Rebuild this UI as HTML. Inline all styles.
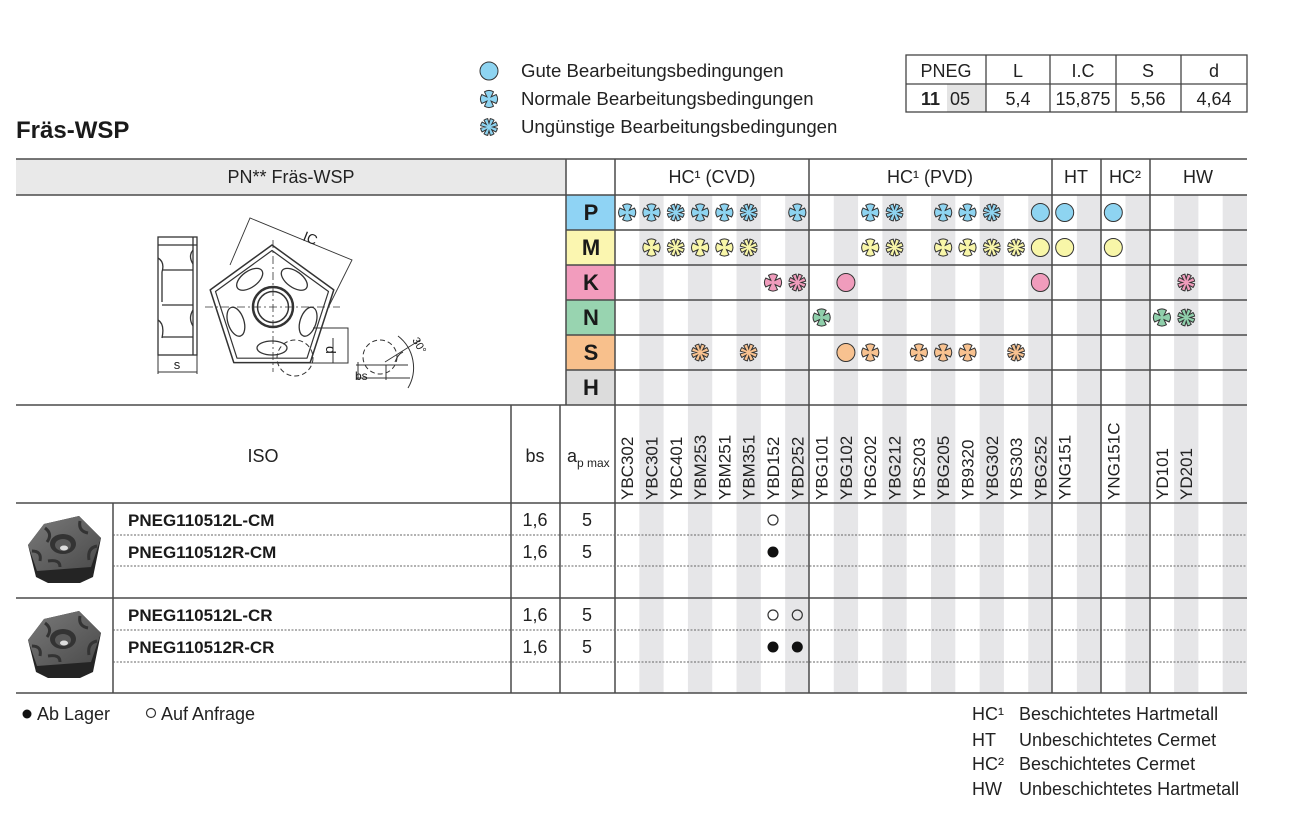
<!DOCTYPE html>
<html><head><meta charset="utf-8"><style>
html,body{margin:0;padding:0;background:#fff;}
svg{display:block;}
text{font-family:"Liberation Sans",Arial,sans-serif;fill:#222;}
</style></head><body>
<svg width="1290" height="823" viewBox="0 0 1290 823" xmlns="http://www.w3.org/2000/svg">
<defs>
<path id="gN" stroke="#333" stroke-width="1" d="M7.21,4.5 L2.12,2.12 L4.5,7.21 A8.5,8.5 0 0 1 -4.5,7.21 L-2.12,2.12 L-7.21,4.5 A8.5,8.5 0 0 1 -7.21,-4.5 L-2.12,-2.12 L-4.5,-7.21 A8.5,8.5 0 0 1 4.5,-7.21 L2.12,-2.12 L7.21,-4.5 A8.5,8.5 0 0 1 7.21,4.5 Z"/>
<path id="gU" stroke="#333" stroke-width="1" d="M8.395,-1.33 L3.8,0 L8.395,1.33 A8.5,8.5 0 0 1 6.877,4.996 L2.69,2.69 L4.996,6.877 A8.5,8.5 0 0 1 1.33,8.395 L0,3.8 L-1.33,8.395 A8.5,8.5 0 0 1 -4.996,6.877 L-2.69,2.69 L-6.877,4.996 A8.5,8.5 0 0 1 -8.395,1.33 L-3.8,0 L-8.395,-1.33 A8.5,8.5 0 0 1 -6.877,-4.996 L-2.69,-2.69 L-4.996,-6.877 A8.5,8.5 0 0 1 -1.33,-8.395 L0,-3.8 L1.33,-8.395 A8.5,8.5 0 0 1 4.996,-6.877 L2.69,-2.69 L6.877,-4.996 A8.5,8.5 0 0 1 8.395,-1.33 Z"/>
<linearGradient id="ins" x1="0" y1="0" x2="1" y2="1">
<stop offset="0" stop-color="#7a7a7a"/><stop offset="1" stop-color="#4a4a4a"/>
</linearGradient>
<g id="insert">
<path d="M28,545 L44,524 L79,516 L101,538 L93,577 L80,583 L48,583 L36,577 Z" fill="#242424"/>
<path d="M28,545 L44,524 L79,516 L101,538 L91,567 L37,571 Z" fill="url(#ins)"/>
<path d="M45,528 q8,6 2,14 M80,521 q-2,10 8,12 M97,546 q-10,2 -8,14 M60,567 q0,-8 -12,-6 M32,551 q10,0 8,10" stroke="#333" stroke-width="3" fill="none"/>
<ellipse cx="63" cy="544" rx="13" ry="10" fill="#333"/>
<ellipse cx="63" cy="545" rx="8" ry="6" fill="#5a5a5a"/>
<ellipse cx="64" cy="548" rx="4" ry="2.5" fill="#ddd"/>
</g>
</defs>

<!-- Title -->
<text x="16" y="138" font-size="24" font-weight="bold" style="fill:#1a1a1a">Fräs-WSP</text>

<!-- Top legend -->
<circle cx="489" cy="71" r="9" fill="#8ed4f1" stroke="#333" stroke-width="1"/>
<use href="#gN" x="489" y="99" fill="#8ed4f1"/>
<use href="#gU" x="489" y="127" fill="#8ed4f1"/>
<text x="521" y="77" font-size="18.6">Gute Bearbeitungsbedingungen</text>
<text x="521" y="105" font-size="18.6">Normale Bearbeitungsbedingungen</text>
<text x="521" y="133" font-size="18.6">Ungünstige Bearbeitungsbedingungen</text>

<!-- PNEG table -->
<rect x="947" y="84" width="39" height="28" fill="#e4e4e4"/>
<g stroke="#444" stroke-width="1.3" fill="none">
<rect x="906" y="55" width="341" height="57"/>
<line x1="906" y1="84" x2="1247" y2="84"/>
<line x1="986" y1="55" x2="986" y2="112"/>
<line x1="1050" y1="55" x2="1050" y2="112"/>
<line x1="1116" y1="55" x2="1116" y2="112"/>
<line x1="1181" y1="55" x2="1181" y2="112"/>
</g>
<g font-size="18" text-anchor="middle">
<text x="946" y="77">PNEG</text>
<text x="1018" y="77">L</text>
<text x="1083" y="77">I.C</text>
<text x="1148" y="77">S</text>
<text x="1214" y="77">d</text>
<text x="1018" y="105">5,4</text>
<text x="1083" y="105">15,875</text>
<text x="1148" y="105">5,56</text>
<text x="1214" y="105">4,64</text>
</g>
<text x="921" y="105" font-size="18" font-weight="bold">11</text>
<text x="950" y="105" font-size="18">05</text>

<!-- header grey -->
<rect x="16" y="159" width="550" height="36" fill="#e9e9e9"/>

<!-- column shading -->
<g fill="#e6e6e8">
<rect x="639.31" y="195" width="24.31" height="498"/>
<rect x="687.92" y="195" width="24.31" height="498"/>
<rect x="736.54" y="195" width="24.31" height="498"/>
<rect x="785.15" y="195" width="24.31" height="498"/>
<rect x="833.77" y="195" width="24.31" height="498"/>
<rect x="882.38" y="195" width="24.31" height="498"/>
<rect x="931.00" y="195" width="24.31" height="498"/>
<rect x="979.62" y="195" width="24.31" height="498"/>
<rect x="1028.23" y="195" width="24.31" height="498"/>
<rect x="1076.85" y="195" width="24.31" height="498"/>
<rect x="1125.46" y="195" width="24.31" height="498"/>
<rect x="1174.08" y="195" width="24.31" height="498"/>
<rect x="1222.69" y="195" width="24.31" height="498"/>
</g>

<!-- material letter cells -->
<rect x="566" y="195" width="49" height="35" fill="#8fd3f4"/>
<rect x="566" y="230" width="49" height="35" fill="#fbf6b0"/>
<rect x="566" y="265" width="49" height="35" fill="#f29cbd"/>
<rect x="566" y="300" width="49" height="35" fill="#98d4b0"/>
<rect x="566" y="335" width="49" height="35" fill="#f8c08c"/>
<rect x="566" y="370" width="49" height="35" fill="#dcdcdc"/>
<g font-size="22" font-weight="bold" text-anchor="middle">
<text x="591" y="220" style="fill:#1a1a1a">P</text>
<text x="591" y="255" style="fill:#1a1a1a">M</text>
<text x="591" y="290" style="fill:#1a1a1a">K</text>
<text x="591" y="325" style="fill:#1a1a1a">N</text>
<text x="591" y="360" style="fill:#1a1a1a">S</text>
<text x="591" y="395" style="fill:#1a1a1a">H</text>
</g>

<!-- header texts -->
<g font-size="18" text-anchor="middle">
<text x="291" y="183">PN** Fräs-WSP</text>
<text x="712" y="183">HC¹ (CVD)</text>
<text x="930" y="183">HC¹ (PVD)</text>
<text x="1076" y="183">HT</text>
<text x="1125" y="183">HC²</text>
<text x="1198" y="183">HW</text>
</g>

<!-- grid lines -->
<g stroke="#4a4a4a" stroke-width="1.5" fill="none">
<line x1="16" y1="159" x2="1247" y2="159"/>
<line x1="16" y1="195" x2="1247" y2="195"/>
<line x1="566" y1="230" x2="1247" y2="230"/>
<line x1="566" y1="265" x2="1247" y2="265"/>
<line x1="566" y1="300" x2="1247" y2="300"/>
<line x1="566" y1="335" x2="1247" y2="335"/>
<line x1="566" y1="370" x2="1247" y2="370"/>
<line x1="16" y1="405" x2="1247" y2="405"/>
<line x1="16" y1="503" x2="1247" y2="503"/>
<line x1="16" y1="598" x2="1247" y2="598"/>
<line x1="16" y1="693" x2="1247" y2="693"/>
<line x1="566" y1="159" x2="566" y2="405"/>
<line x1="615" y1="159" x2="615" y2="693"/>
<line x1="809" y1="159" x2="809" y2="693"/>
<line x1="1052" y1="159" x2="1052" y2="693"/>
<line x1="1101" y1="159" x2="1101" y2="693"/>
<line x1="1150" y1="159" x2="1150" y2="693"/>
<line x1="511" y1="405" x2="511" y2="693"/>
<line x1="560" y1="405" x2="560" y2="693"/>
<line x1="113" y1="503" x2="113" y2="693"/>
</g>
<g stroke="#666" stroke-width="1" stroke-dasharray="2 1.5" fill="none">
<line x1="113" y1="535" x2="1247" y2="535"/>
<line x1="113" y1="566" x2="1247" y2="566"/>
<line x1="113" y1="630" x2="1247" y2="630"/>
<line x1="113" y1="662" x2="1247" y2="662"/>
</g>

<!-- icons P -->
<g>
<use href="#gN" x="627.15" y="212.5" fill="#8ed4f1"/>
<use href="#gN" x="651.46" y="212.5" fill="#8ed4f1"/>
<use href="#gU" x="675.77" y="212.5" fill="#8ed4f1"/>
<use href="#gN" x="700.08" y="212.5" fill="#8ed4f1"/>
<use href="#gN" x="724.38" y="212.5" fill="#8ed4f1"/>
<use href="#gU" x="748.69" y="212.5" fill="#8ed4f1"/>
<use href="#gN" x="797.31" y="212.5" fill="#8ed4f1"/>
<use href="#gN" x="870.23" y="212.5" fill="#8ed4f1"/>
<use href="#gU" x="894.54" y="212.5" fill="#8ed4f1"/>
<use href="#gN" x="943.15" y="212.5" fill="#8ed4f1"/>
<use href="#gN" x="967.46" y="212.5" fill="#8ed4f1"/>
<use href="#gU" x="991.77" y="212.5" fill="#8ed4f1"/>
<circle cx="1040.38" cy="212.5" r="9" fill="#8ed4f1" stroke="#333"/>
<circle cx="1064.69" cy="212.5" r="9" fill="#8ed4f1" stroke="#333"/>
<circle cx="1113.31" cy="212.5" r="9" fill="#8ed4f1" stroke="#333"/>
</g>
<!-- icons M -->
<g>
<use href="#gN" x="651.46" y="247.5" fill="#f8f6a8"/>
<use href="#gU" x="675.77" y="247.5" fill="#f8f6a8"/>
<use href="#gN" x="700.08" y="247.5" fill="#f8f6a8"/>
<use href="#gN" x="724.38" y="247.5" fill="#f8f6a8"/>
<use href="#gU" x="748.69" y="247.5" fill="#f8f6a8"/>
<use href="#gN" x="870.23" y="247.5" fill="#f8f6a8"/>
<use href="#gU" x="894.54" y="247.5" fill="#f8f6a8"/>
<use href="#gN" x="943.15" y="247.5" fill="#f8f6a8"/>
<use href="#gN" x="967.46" y="247.5" fill="#f8f6a8"/>
<use href="#gU" x="991.77" y="247.5" fill="#f8f6a8"/>
<use href="#gU" x="1016.08" y="247.5" fill="#f8f6a8"/>
<circle cx="1040.38" cy="247.5" r="9" fill="#f8f6a8" stroke="#333"/>
<circle cx="1064.69" cy="247.5" r="9" fill="#f8f6a8" stroke="#333"/>
<circle cx="1113.31" cy="247.5" r="9" fill="#f8f6a8" stroke="#333"/>
</g>
<!-- icons K -->
<g>
<use href="#gN" x="773.00" y="282.5" fill="#f09cbc"/>
<use href="#gU" x="797.31" y="282.5" fill="#f09cbc"/>
<circle cx="845.92" cy="282.5" r="9" fill="#f09cbc" stroke="#333"/>
<circle cx="1040.38" cy="282.5" r="9" fill="#f09cbc" stroke="#333"/>
<use href="#gU" x="1186.23" y="282.5" fill="#f09cbc"/>
</g>
<!-- icons N -->
<g>
<use href="#gN" x="821.62" y="317.5" fill="#8fcfab"/>
<use href="#gN" x="1161.92" y="317.5" fill="#8fcfab"/>
<use href="#gU" x="1186.23" y="317.5" fill="#8fcfab"/>
</g>
<!-- icons S -->
<g>
<use href="#gU" x="700.08" y="352.5" fill="#f8c290"/>
<use href="#gU" x="748.69" y="352.5" fill="#f8c290"/>
<circle cx="845.92" cy="352.5" r="9" fill="#f8c290" stroke="#333"/>
<use href="#gN" x="870.23" y="352.5" fill="#f8c290"/>
<use href="#gN" x="918.85" y="352.5" fill="#f8c290"/>
<use href="#gN" x="943.15" y="352.5" fill="#f8c290"/>
<use href="#gN" x="967.46" y="352.5" fill="#f8c290"/>
<use href="#gU" x="1016.08" y="352.5" fill="#f8c290"/>
</g>

<!-- ISO header -->
<g font-size="18">
<text x="263" y="462" text-anchor="middle">ISO</text>
<text x="535" y="462" text-anchor="middle">bs</text>
<text x="567" y="462">a</text>
<text x="577" y="467" font-size="12">p max</text>
</g>

<!-- rotated grade labels -->
<g font-size="17">
<text transform="translate(633.15,500) rotate(-90)">YBC302</text>
<text transform="translate(657.46,500) rotate(-90)">YBC301</text>
<text transform="translate(681.77,500) rotate(-90)">YBC401</text>
<text transform="translate(706.08,500) rotate(-90)">YBM253</text>
<text transform="translate(730.38,500) rotate(-90)">YBM251</text>
<text transform="translate(754.69,500) rotate(-90)">YBM351</text>
<text transform="translate(779.00,500) rotate(-90)">YBD152</text>
<text transform="translate(803.31,500) rotate(-90)">YBD252</text>
<text transform="translate(827.62,500) rotate(-90)">YBG101</text>
<text transform="translate(851.92,500) rotate(-90)">YBG102</text>
<text transform="translate(876.23,500) rotate(-90)">YBG202</text>
<text transform="translate(900.54,500) rotate(-90)">YBG212</text>
<text transform="translate(924.85,500) rotate(-90)">YBS203</text>
<text transform="translate(949.15,500) rotate(-90)">YBG205</text>
<text transform="translate(973.46,500) rotate(-90)">YB9320</text>
<text transform="translate(997.77,500) rotate(-90)">YBG302</text>
<text transform="translate(1022.08,500) rotate(-90)">YBS303</text>
<text transform="translate(1046.38,500) rotate(-90)">YBG252</text>
<text transform="translate(1070.69,500) rotate(-90)">YNG151</text>
<text transform="translate(1119.31,500) rotate(-90)">YNG151C</text>
<text transform="translate(1167.92,500) rotate(-90)">YD101</text>
<text transform="translate(1192.23,500) rotate(-90)">YD201</text>
</g>

<!-- data rows -->
<g font-size="17" font-weight="bold">
<text x="128" y="526" style="fill:#1a1a1a">PNEG110512L-CM</text>
<text x="128" y="558" style="fill:#1a1a1a">PNEG110512R-CM</text>
<text x="128" y="621" style="fill:#1a1a1a">PNEG110512L-CR</text>
<text x="128" y="653" style="fill:#1a1a1a">PNEG110512R-CR</text>
</g>
<g font-size="18" text-anchor="middle">
<text x="535" y="526">1,6</text>
<text x="587" y="526">5</text>
<text x="535" y="558">1,6</text>
<text x="587" y="558">5</text>
<text x="535" y="621">1,6</text>
<text x="587" y="621">5</text>
<text x="535" y="653">1,6</text>
<text x="587" y="653">5</text>
</g>
<circle cx="773" cy="520" r="5" fill="none" stroke="#333" stroke-width="1.2"/>
<circle cx="773" cy="552" r="5.5" fill="#111"/>
<circle cx="773" cy="615" r="5" fill="none" stroke="#333" stroke-width="1.2"/>
<circle cx="797.3" cy="615" r="5" fill="none" stroke="#333" stroke-width="1.2"/>
<circle cx="773" cy="647" r="5.5" fill="#111"/>
<circle cx="797.3" cy="647" r="5.5" fill="#111"/>

<!-- insert photos -->
<use href="#insert" x="0" y="0"/>
<use href="#insert" x="0" y="95"/>

<!-- technical drawing -->
<g stroke="#333" stroke-width="1.3" fill="none">
<rect x="158" y="237" width="39" height="118"/>
<line x1="193" y1="237" x2="193" y2="355"/>
<line x1="158" y1="245" x2="197" y2="245"/>
<line x1="162" y1="270" x2="193" y2="270"/>
<line x1="162" y1="305" x2="193" y2="305"/>
<line x1="162" y1="337" x2="193" y2="337"/>
<path d="M158,258 q7,4 4,14 l0,30 M158,320 q7,4 4,18 M193,250 q-5,6 0,14 M193,310 q-5,8 0,16"/>
<line x1="158" y1="355" x2="158" y2="374" stroke-width="1"/>
<line x1="197" y1="355" x2="197" y2="374" stroke-width="1"/>
<line x1="158" y1="372" x2="197" y2="372" stroke-width="1"/>
<polygon points="272,245 333.8,289.9 310.2,362.6 233.8,362.6 210.2,289.9" stroke-linejoin="round" stroke-width="1.5"/>
<polygon points="272,250.5 328.5,291.5 307,358.2 237,358.2 215.5,291.5" stroke-linejoin="round" stroke-width="1.2"/>
<ellipse cx="294.3" cy="279.3" rx="15" ry="8" transform="rotate(36 294.3 279.3)"/>
<ellipse cx="308.1" cy="321.7" rx="15" ry="8" transform="rotate(108 308.1 321.7)"/>
<ellipse cx="272" cy="348" rx="15" ry="7" transform="rotate(180 272 348)"/>
<ellipse cx="235.9" cy="321.7" rx="15" ry="8" transform="rotate(252 235.9 321.7)"/>
<ellipse cx="249.7" cy="279.3" rx="15" ry="8" transform="rotate(324 249.7 279.3)"/>
<circle cx="273" cy="307" r="20" stroke-width="2.5"/>
<circle cx="273" cy="307" r="15.5" stroke-width="1.5"/>
<line x1="205" y1="307" x2="340" y2="307" stroke-width="0.8" stroke-dasharray="8 3 2 3"/>
<line x1="273" y1="240" x2="273" y2="372" stroke-width="0.8" stroke-dasharray="8 3 2 3"/>
<polyline points="230,265 250,218 352,260 327,310" stroke-width="0.9"/>
<polyline points="313,328 348,328 348,363 277,363" stroke-width="1"/>
<line x1="333" y1="338" x2="333" y2="363" stroke-width="1"/>
<circle cx="295" cy="358" r="18" stroke-width="1" stroke-dasharray="5 3"/>
<circle cx="380" cy="357" r="17" stroke-width="1" stroke-dasharray="5 3"/>
<path d="M398,336 A40,40 0 0 1 408,388" stroke-width="1"/>
<line x1="356" y1="365" x2="408" y2="365" stroke-width="1"/>
<line x1="356" y1="378" x2="410" y2="378" stroke-width="1"/>
<line x1="386" y1="365" x2="386" y2="380" stroke-width="1"/>
<line x1="358" y1="362" x2="358" y2="380" stroke-width="1"/>
<path d="M385,362 L420,340" stroke-width="0.9"/>
<path d="M395,362 q3,-8 8,-10" stroke-width="1"/>
</g>
<text x="177" y="369" font-size="13" text-anchor="middle">s</text>
<text x="302" y="240" font-size="14" transform="rotate(22 302 240)">IC</text>
<text x="326" y="346" font-size="14" transform="rotate(90 326 346)">d</text>
<text x="355" y="380" font-size="12">bs</text>
<text x="412" y="340" font-size="11" transform="rotate(60 412 340)">30°</text>

<!-- bottom legends -->
<circle cx="27" cy="714" r="4.5" fill="#111"/>
<text x="37" y="720" font-size="18">Ab Lager</text>
<circle cx="151" cy="713" r="4.5" fill="none" stroke="#333" stroke-width="1.2"/>
<text x="161" y="720" font-size="18">Auf Anfrage</text>

<g font-size="18">
<text x="972" y="720">HC¹</text>
<text x="1019" y="720">Beschichtetes Hartmetall</text>
<text x="972" y="746">HT</text>
<text x="1019" y="746">Unbeschichtetes Cermet</text>
<text x="972" y="770">HC²</text>
<text x="1019" y="770">Beschichtetes Cermet</text>
<text x="972" y="795">HW</text>
<text x="1019" y="795">Unbeschichtetes Hartmetall</text>
</g>
</svg>
</body></html>
